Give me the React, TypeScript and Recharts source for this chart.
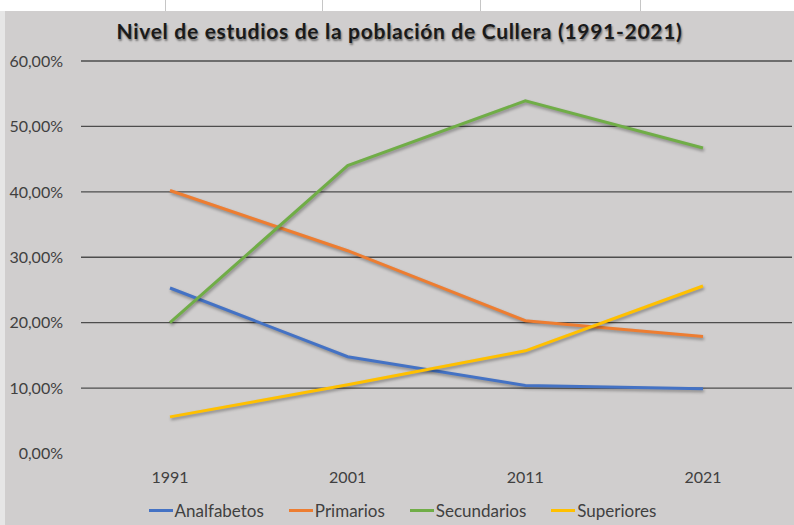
import React from 'react';
import { LineChart, Line, XAxis, YAxis, CartesianGrid, Legend } from 'recharts';

const years = ['1991', '2001', '2011', '2021'];
const analfabetos = [0.253, 0.148, 0.104, 0.099];
const primarios = [0.402, 0.31, 0.203, 0.179];
const secundarios = [0.2, 0.44, 0.539, 0.467];
const superiores = [0.056, 0.105, 0.157, 0.256];
const yTicks = [0, 0.1, 0.2, 0.3, 0.4, 0.5, 0.6];

const series = [
  { key: 'Analfabetos', values: analfabetos, color: '#4472C4' },
  { key: 'Primarios', values: primarios, color: '#ED7D31' },
  { key: 'Secundarios', values: secundarios, color: '#70AD47' },
  { key: 'Superiores', values: superiores, color: '#FFC000' },
];

const data = years.map((year, i) => {
  const row: Record<string, string | number> = { year };
  series.forEach((s) => (row[s.key] = s.values[i]));
  return row;
});

const FONT = 'Lato, "Open Sans", sans-serif';
const pct = (v: number) => (v * 100).toFixed(2).replace('.', ',') + '%';

function LegendRow() {
  return (
    <div style={{ display: 'flex', justifyContent: 'center', alignItems: 'center', gap: 25, fontFamily: FONT, fontSize: 17, color: '#404040', paddingLeft: 8 }}>
      {series.map((s) => (
        <div key={s.key} style={{ display: 'flex', alignItems: 'center' }}>
          <span style={{ display: 'inline-block', width: 24, height: 3, background: s.color, marginRight: 2 }} />
          <span>{s.key}</span>
        </div>
      ))}
    </div>
  );
}

export default function App() {
  return (
    <div style={{ position: 'absolute', left: 0, top: 0, width: 794, height: 525, background: '#ffffff', overflow: 'hidden' }}>
      <style>{`.recharts-line-curve { filter: drop-shadow(1px 2px 1.5px rgba(0,0,0,0.35)); }`}</style>
      {[165, 322, 480, 640].map((x) => (
        <div key={x} style={{ position: 'absolute', left: x, top: 0, width: 1, height: 11, background: '#c6c6c6' }} />
      ))}
      <div style={{ position: 'absolute', left: 0, top: 11, width: 5, height: 514, background: '#e6e6e6' }} />
      <div style={{ position: 'absolute', left: 5, top: 11, width: 789, height: 514, background: '#d0cece' }}>
        <div style={{ position: 'absolute', left: 0, width: 789, top: 7, textAlign: 'center', fontFamily: FONT, fontWeight: 700, fontSize: 21, letterSpacing: 0.7, color: '#1a1a1a', textShadow: '1px 2px 2px rgba(0,0,0,0.45)' }}>
          Nivel de estudios de la población de Cullera (1991-2021)
        </div>
        <LineChart width={789} height={514} data={data} margin={{ top: 50, right: 2, bottom: 2.5, left: 0 }}>
          <CartesianGrid vertical={false} horizontalValues={[0.1, 0.2, 0.3, 0.4, 0.5, 0.6]} stroke="#4d4d4d" strokeWidth={1.4} />
          <XAxis dataKey="year" axisLine={false} tickLine={false} height={45} padding={{ left: 89, right: 89 }} tick={{ fill: '#404040', fontFamily: FONT, fontSize: 16 }} tickMargin={12} />
          <YAxis domain={[0, 0.6]} ticks={yTicks} tickFormatter={pct} width={76} axisLine={false} tickLine={false} tick={{ fill: '#404040', fontFamily: FONT, fontSize: 16 }} tickMargin={12} />
          <Legend verticalAlign="bottom" content={() => <LegendRow />} wrapperStyle={{ height: 24, bottom: 1 }} />
          {series.map((s) => (
            <Line key={s.key} dataKey={s.key} stroke={s.color} strokeWidth={3} dot={false} isAnimationActive={false} type="linear" />
          ))}
        </LineChart>
      </div>
    </div>
  );
}
